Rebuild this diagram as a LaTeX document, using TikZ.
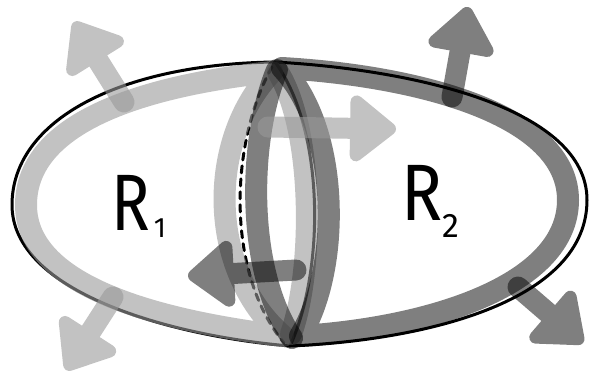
\documentclass[tikz,border=0pt]{standalone}
\usepackage{fontspec}
\setmainfont{Fira Sans}
\usetikzlibrary{arrows.meta}
\definecolor{bandlight}{gray}{0.6}
\newcommand{\normalarrow}[4]{% colour, opacity, from, to
  \begin{scope}[transparency group, opacity=#2]
    \draw[shaft, #1] #3 -- #4;
  \end{scope}}

\begin{document}
\begin{tikzpicture}[x=1pt, y=-1pt,
    rim/.style={line width=3pt, line cap=round, line join=round},
    lightband/.style={line width=22pt, draw=bandlight, opacity=0.6, line cap=round, line join=round},
    darkband/.style={line width=22pt, draw=black, opacity=0.5, line cap=round, line join=round},
    shaft/.style={line width=21pt, line cap=round, -{Triangle[length=50pt, width=76pt, round, line width=14pt]}},
    lbl/.style={inner sep=0pt, anchor=base west, font=\fontsize{80}{80}\selectfont}]
  \useasboundingbox (0,0) rectangle (592,381);

  %% junctions of the two regions
  \coordinate (top) at (275,62);
  \coordinate (bot) at (290,346);

  %% outer rim and the interface
  \draw[rim] (top) .. controls (120,64) and (12,120) .. (12,205)
                   .. controls (12,292) and (170,336) .. (bot);
  \draw[rim] (top) .. controls (420,70) and (587,110) .. (587,200)
                   .. controls (587,300) and (430,340) .. (bot);
  \draw[rim] (top) .. controls (325,130) and (325,270) .. (bot);
  \draw[rim, dash pattern=on 7pt off 6pt] (272,67) .. controls (231,140) and (224,270) .. (284,343);

  %% boundary of R1
  \draw[lightband] (272,72) .. controls (150,85) and (26,120) .. (26,205)
                   .. controls (26,290) and (170,322) .. (283,336)
                   .. controls (207,270) and (207,140) .. cycle;
  \draw[lightband] (278,72) .. controls (314,130) and (314,270) .. (291,334);

  %% boundary of R2
  \draw[darkband] (282,68) .. controls (420,76) and (568,115) .. (568,200)
                  .. controls (568,285) and (430,328) .. (300,336)
                  .. controls (341,270) and (341,130) .. cycle;
  \draw[darkband] (277,70) .. controls (248,140) and (246,270) .. (292,338);

  %% outward normals
  \normalarrow{bandlight}{0.6}{(124,102)}{(74,22)}
  \normalarrow{bandlight}{0.6}{(268,127)}{(396,129)}
  \normalarrow{bandlight}{0.6}{(113,297)}{(66,370)}
  \normalarrow{black}{0.5}{(452,97)}{(468,7)}
  \normalarrow{black}{0.5}{(296,270)}{(188,276)}
  \normalarrow{black}{0.5}{(518,287)}{(583,343)}

  %% region labels
  \node[lbl] (r1) at (111,230) {\scalebox{0.8}[1]{R}\hspace{4pt}\raisebox{-7pt}{\fontsize{28}{28}\selectfont 1}};
  \node[lbl] (r2) at (401,220) {\scalebox{0.85}[1]{R}\hspace{0pt}\raisebox{-17pt}{\fontsize{34}{34}\selectfont 2}};
\end{tikzpicture}
\end{document}
